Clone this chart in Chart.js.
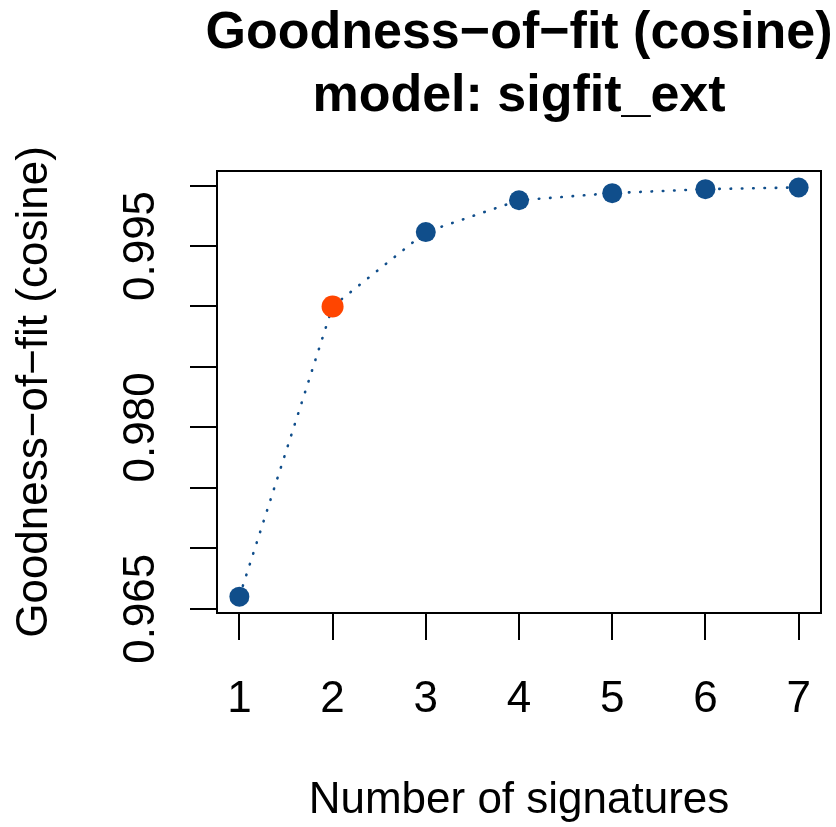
<!DOCTYPE html>
<html>
<head>
<meta charset="utf-8">
<title>Goodness-of-fit (cosine)</title>
<script src="https://cdn.jsdelivr.net/npm/chart.js@4.4.1/dist/chart.umd.min.js"></script>
<style>
  html, body { margin: 0; padding: 0; background: #ffffff; }
  #wrap { width: 836px; height: 827px; }
</style>
</head>
<body>
<div id="wrap"><canvas id="gofChart" width="836" height="827"></canvas></div>
<script>
// ==================== DATA ====================
var nSignatures = [1, 2, 3, 4, 5, 6, 7];
var goodness = [0.9660, 0.9900, 0.99615, 0.99878, 0.99937, 0.99970, 0.99984];
var selectedK = 2;

var xTickLabels = ['1', '2', '3', '4', '5', '6', '7'];
var yTickLabels = ['0.965', '0.980', '0.995'];

var titleLines = ['Goodness\u2212of\u2212fit (cosine)', 'model: sigfit_ext'];
var xTitle = 'Number of signatures';
var yTitle = 'Goodness\u2212of\u2212fit (cosine)';

// ==================== STYLE ====================
var FONT = "'Liberation Sans', Arial, Helvetica, sans-serif";
var BLUE = '#104E8B';
var ORANGE = '#FF4500';

var puntos = nSignatures.map(function (k, i) {
  return { x: k, y: goodness[i] };
});

// Texto estilo R: titulo, etiquetas de ejes y caja del panel
var rTextos = {
  id: 'rTextos',
  afterDraw: function (chart) {
    var ctx = chart.ctx;
    var ca = chart.chartArea;
    var xs = chart.scales.x;
    var ys = chart.scales.y;
    var cx = (ca.left + ca.right) / 2;
    var cy = (ca.top + ca.bottom) / 2;

    ctx.save();
    ctx.fillStyle = '#000000';
    ctx.strokeStyle = '#000000';

    // caja
    ctx.lineWidth = 2;
    ctx.strokeRect(ca.left, ca.top, ca.right - ca.left, ca.bottom - ca.top);

    // titulo
    ctx.font = 'bold 52px ' + FONT;
    ctx.textAlign = 'center';
    ctx.textBaseline = 'alphabetic';
    ctx.fillText(titleLines[0], cx, 48);
    ctx.fillText(titleLines[1], cx, 111);

    // etiquetas eje x
    ctx.font = '44px ' + FONT;
    xTickLabels.forEach(function (t) {
      ctx.fillText(t, xs.getPixelForValue(parseFloat(t)), 712);
    });
    ctx.fillText(xTitle, cx, 813);

    // etiquetas eje y (rotadas)
    yTickLabels.forEach(function (t) {
      var py = ys.getPixelForValue(parseFloat(t));
      ctx.save();
      ctx.translate(154, py);
      ctx.rotate(-Math.PI / 2);
      ctx.fillText(t, 0, 0);
      ctx.restore();
    });

    ctx.save();
    ctx.translate(47, cy);
    ctx.rotate(-Math.PI / 2);
    ctx.fillText(yTitle, 0, 0);
    ctx.restore();

    ctx.restore();
  }
};

// ==================== CHART ====================
var ctx = document.getElementById('gofChart').getContext('2d');
var gofChart = new Chart(ctx, {
  type: 'line',
  data: {
    datasets: [{
      data: puntos,
      borderColor: BLUE,
      borderWidth: 2.6,
      borderDash: [0.5, 10.8],
      borderCapStyle: 'round',
      tension: 0,
      fill: false,
      pointBackgroundColor: nSignatures.map(function (k) { return k === selectedK ? ORANGE : BLUE; }),
      pointBorderWidth: 0,
      pointRadius: nSignatures.map(function (k) { return k === selectedK ? 11 : 10; }),
      pointHoverRadius: 10,
      clip: false
    }]
  },
  options: {
    responsive: false,
    animation: false,
    events: [],
    layout: { padding: { top: 171, right: 15, left: 0, bottom: 0 } },
    plugins: {
      legend: { display: false },
      title: { display: false },
      tooltip: { enabled: false }
    },
    scales: {
      x: {
        type: 'linear',
        min: 0.76,
        max: 7.24,
        afterFit: function (scale) { scale.height = 214; },
        border: { display: false },
        grid: {
          drawOnChartArea: false,
          drawTicks: true,
          tickLength: 27,
          color: '#000000',
          lineWidth: 2
        },
        ticks: { display: false, stepSize: 1, includeBounds: false }
      },
      y: {
        type: 'linear',
        min: 0.96465,
        max: 1.0012,
        afterFit: function (scale) { scale.width = 217; },
        border: { display: false },
        grid: {
          drawOnChartArea: false,
          drawTicks: true,
          tickLength: 27,
          color: '#000000',
          lineWidth: 2
        },
        ticks: { display: false, stepSize: 0.005, includeBounds: false }
      }
    }
  },
  plugins: [rTextos]
});
</script>
</body>
</html>
